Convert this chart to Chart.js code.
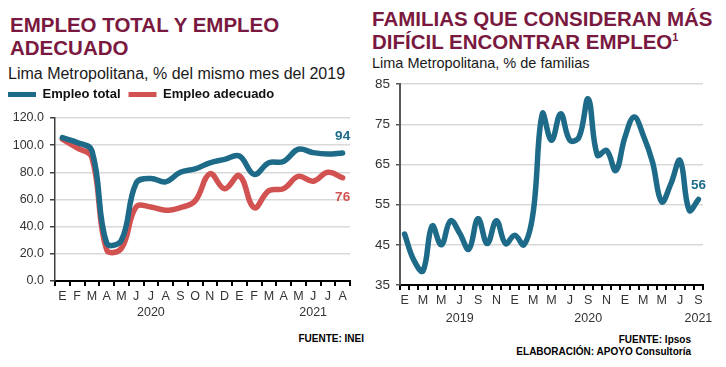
<!DOCTYPE html>
<html>
<head>
<meta charset="utf-8">
<script src="https://cdn.jsdelivr.net/npm/chart.js@4.4.1/dist/chart.umd.min.js"></script>
<style>
  body { margin: 0; background: #fff; font-family: "Liberation Sans", Arial, sans-serif; }
  #wrap { position: relative; width: 726px; height: 367px; overflow: hidden; background: #fff; }
  .title { position: absolute; color: #7a1940; font-weight: bold; font-size: 20.5px; line-height: 22.5px; white-space: nowrap; }
  .title sup { font-size: 11px; line-height: 0; vertical-align: 8px; }
  .sub { position: absolute; color: #1a1a1a; white-space: nowrap; }
  .src { position: absolute; font-weight: bold; font-size: 10px; line-height: 12px; color: #000; text-align: right; white-space: nowrap; }
  canvas { position: absolute; }
</style>
</head>
<body>
<div id="wrap">
  <div class="title" style="left:10px; top:14px;">EMPLEO TOTAL Y EMPLEO<br>ADECUADO</div>
  <div class="sub" style="left:8px; top:65px; font-size:16px; line-height:18px;">Lima Metropolitana, % del mismo mes del 2019</div>
  <div class="title" style="left:372px; top:8px;">FAMILIAS QUE CONSIDERAN MÁS<br>DIFÍCIL ENCONTRAR EMPLEO<sup>1</sup></div>
  <div class="sub" style="left:372px; top:55px; font-size:14.5px; line-height:16px;">Lima Metropolitana, % de familias</div>

  <canvas id="left" width="363" height="246" style="left:0; top:80px;"></canvas>
  <canvas id="right" width="363" height="260" style="left:363px; top:70px;"></canvas>

  <div class="src" style="right:362px; top:333px;">FUENTE: INEI</div>
  <div class="src" style="right:35px; top:334px;">FUENTE: Ipsos<br>ELABORACIÓN: APOYO Consultoría</div>
</div>

<script>
// --- data: employment, Jan 2020 - Aug 2021 (% of same month 2019)
const monthsLeft = ['E','F','M','A','M','J','J','A','S','O','N','D','E','F','M','A','M','J','J','A'];
const yearsLeft  = ['','','','','','','2020','','','','','','','','','','','2021','',''];
const empleoTotal    = [105.5, 102, 96, 28, 30, 72, 75.5, 73, 80, 82.5, 87, 89.5, 92, 78.5, 87, 88, 97, 94.5, 93.5, 94.3];
const empleoAdecuado = [104.5, 98, 91, 23, 24, 54.5, 54.5, 52, 54, 59, 79, 68, 77.5, 54, 66.5, 68, 77, 73.5, 80, 76];

// --- data: families finding it harder to get a job, Jan 2019 - Sep 2021
const monthsRight = ['E','F','M','A','M','J','J','A','S','O','N','D',
                     'E','F','M','A','M','J','J','A','S','O','N','D',
                     'E','F','M','A','M','J','J','A','S'];
const yearsRight  = ['','','','','','','2019','','','','','',
                     '','','','','','','','','2020','','','',
                     '','','','','','','','','2021'];
const familias = [47.7, 41.2, 38.5, 49.7, 45, 51, 47.9, 43.9, 51.5, 45.3, 51, 45.3,
                  47.4, 45, 53, 77.6, 71, 77.6, 71, 71.8, 81.3, 67.3, 68.5, 63.5,
                  71.8, 76.8, 72.2, 65.6, 55.7, 60.2, 66, 53.6, 56.3];

const BLUE = '#1d6a89';
const RED = '#d25252';
const FONT = '"Liberation Sans", Arial, sans-serif';

// value label at the end of each line
const endLabel = {
  id: 'endLabel',
  afterDatasetsDraw(chart) {
    const ctx = chart.ctx;
    chart.data.datasets.forEach((ds, i) => {
      if (ds.labelDy === undefined) return;
      const pts = chart.getDatasetMeta(i).data;
      const p = pts[pts.length - 1];
      ctx.save();
      ctx.font = 'bold 13.5px ' + FONT;
      ctx.fillStyle = ds.borderColor;
      ctx.textAlign = 'center';
      ctx.textBaseline = 'middle';
      ctx.fillText(String(Math.round(ds.data[ds.data.length - 1])), p.x, p.y + ds.labelDy);
      ctx.restore();
    });
  }
};

// fixed legend height so the plot starts where it should
const legendSpace = {
  id: 'legendSpace',
  beforeInit(chart) {
    if (!chart.legend) return;
    const fit = chart.legend.fit;
    chart.legend.fit = function () { fit.call(this); this.height = 38; };
  }
};

function lineSet(label, data, color, dy) {
  return {
    label, data,
    borderColor: color, backgroundColor: color,
    borderWidth: 5.5, tension: 0.4,
    borderCapStyle: 'round', borderJoinStyle: 'round',
    pointRadius: 0, pointHoverRadius: 0,
    pointBorderWidth: 5, pointBorderColor: color, pointBackgroundColor: color,
    clip: false, labelDy: dy
  };
}

function xScale(months, years, fontSize, lineHeight, pad, everyOther) {
  return {
    type: 'category',
    offset: true,
    grid: { offset: true, drawOnChartArea: false, drawTicks: true, tickLength: 5, tickColor: '#000', lineWidth: 2 },
    border: { color: '#000', width: 2 },
    ticks: {
      autoSkip: false, maxRotation: 0, padding: pad, color: '#333',
      font: { family: FONT, size: fontSize, lineHeight: lineHeight + 'px' },
      callback: (v, i) => {
        if (everyOther && i % 2) return '';
        return years[i] ? [months[i], years[i]] : months[i];
      }
    },
    afterFit: s => { s.height = 45; }
  };
}

new Chart(document.getElementById('left'), {
  type: 'line',
  data: {
    labels: monthsLeft,
    datasets: [
      lineSet('Empleo total', empleoTotal, BLUE, -17),
      lineSet('Empleo adecuado', empleoAdecuado, RED, 20)
    ]
  },
  options: {
    responsive: false, animation: false,
    layout: { padding: { left: 0, right: 13, top: 0, bottom: 0 } },
    plugins: {
      legend: {
        display: true, position: 'top', align: 'start',
        labels: {
          usePointStyle: true, pointStyle: 'line', pointStyleWidth: 28,
          padding: 8, color: '#111',
          font: { family: FONT, size: 13, weight: 'bold' }
        }
      },
      tooltip: { enabled: false }
    },
    scales: {
      x: xScale(monthsLeft, yearsLeft, 12.5, 16, 3, false),
      y: {
        min: 0, max: 120,
        grid: { color: '#d9d9d9', lineWidth: 1.5, tickColor: '#404040', tickLength: 5 },
        border: { color: '#404040', width: 1.5 },
        ticks: { stepSize: 20, padding: 6, color: '#333', font: { family: FONT, size: 12.5 },
                 callback: v => v.toFixed(1) },
        afterFit: s => { s.width = 55; }
      }
    }
  },
  plugins: [endLabel, legendSpace]
});

new Chart(document.getElementById('right'), {
  type: 'line',
  data: {
    labels: monthsRight,
    datasets: [lineSet('Familias', familias, BLUE, -14)]
  },
  options: {
    responsive: false, animation: false,
    layout: { padding: { left: 0, right: 23, top: 13.3, bottom: 0 } },
    plugins: { legend: { display: false }, tooltip: { enabled: false } },
    scales: {
      x: xScale(monthsRight, yearsRight, 12.5, 18, 2, true),
      y: {
        min: 35, max: 85,
        grid: { color: '#d9d9d9', lineWidth: 1.5, tickColor: '#595959', tickLength: 4 },
        border: { color: '#595959', width: 2 },
        ticks: { stepSize: 10, padding: 6, color: '#333', font: { family: FONT, size: 13.5 } },
        afterFit: s => { s.width = 37; }
      }
    }
  },
  plugins: [endLabel]
});
</script>
</body>
</html>
